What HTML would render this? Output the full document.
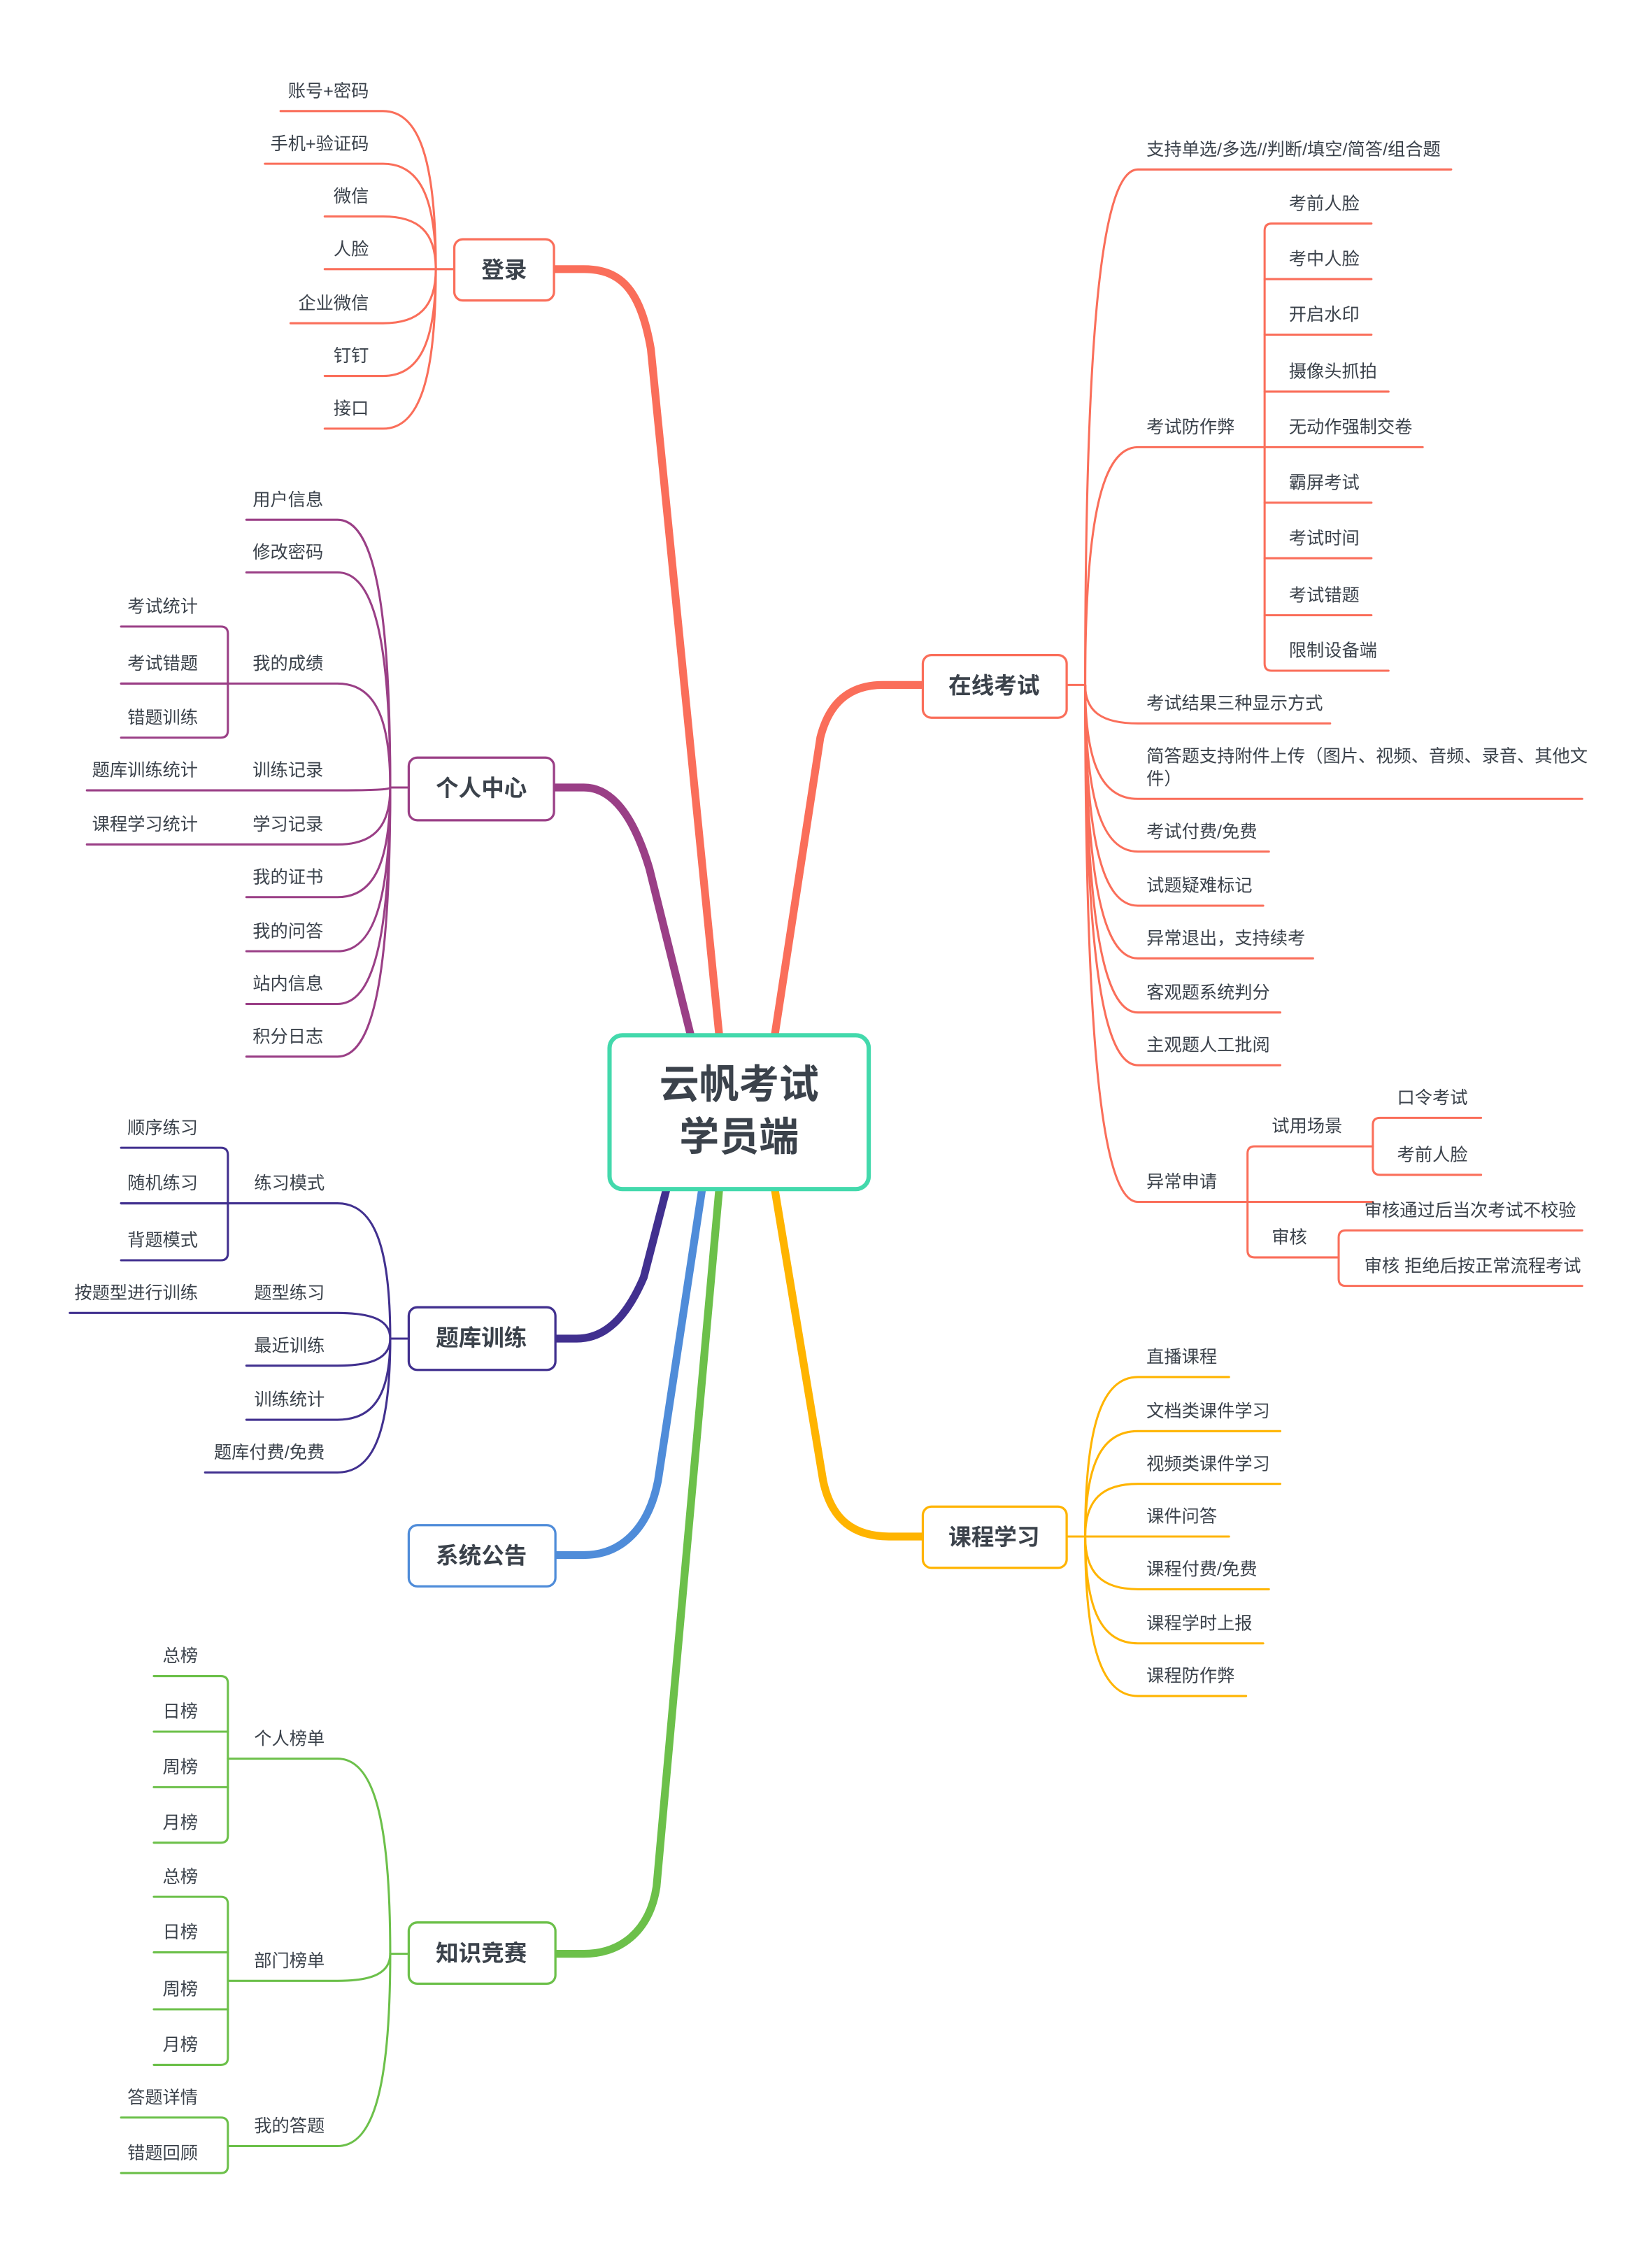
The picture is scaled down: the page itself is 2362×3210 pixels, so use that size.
<!DOCTYPE html>
<html><head><meta charset="utf-8">
<style>
html,body{margin:0;padding:0;background:#fff;}
svg{display:block;}
text{font-family:"Liberation Sans","Noto Sans CJK SC",sans-serif;fill:#3b424b;}
.l{font-size:12.4px;}
.n{font-size:16px;font-weight:bold;}
.e{text-anchor:end;}
</style></head>
<body>
<svg id="s" width="2362" height="3210" viewBox="0 0 1160 1576.5" xmlns="http://www.w3.org/2000/svg">
<g id="lines" fill="none" stroke-linecap="round"></g>
<rect x="319" y="168" width="70" height="43" rx="6" fill="#fff" stroke="#FA6E5A" stroke-width="1.6"/>
<rect x="287" y="532" width="102" height="44" rx="6" fill="#fff" stroke="#9A3F86" stroke-width="1.6"/>
<rect x="648" y="460" width="101" height="44" rx="6" fill="#fff" stroke="#FA6E5A" stroke-width="1.6"/>
<rect x="648" y="1058" width="101" height="43" rx="6" fill="#fff" stroke="#FFB400" stroke-width="1.6"/>
<rect x="287" y="918" width="103" height="44" rx="6" fill="#fff" stroke="#41308F" stroke-width="1.6"/>
<rect x="287" y="1071" width="103" height="43" rx="6" fill="#fff" stroke="#4F8CD9" stroke-width="1.6"/>
<rect x="287" y="1350" width="103" height="43" rx="6" fill="#fff" stroke="#6CC04A" stroke-width="1.6"/>
<rect x="428" y="727" width="182" height="108" rx="9" fill="#fff" stroke="#43D9AC" stroke-width="3"/>
<text x="519" y="771" text-anchor="middle" style="font-size:28px;font-weight:bold">云帆考试</text>
<text x="519" y="808" text-anchor="middle" style="font-size:28px;font-weight:bold">学员端</text>
<text class="n" x="354" y="195" text-anchor="middle">登录</text>
<text class="n" x="338" y="559" text-anchor="middle">个人中心</text>
<text class="n" x="698" y="487" text-anchor="middle">在线考试</text>
<text class="n" x="698" y="1085" text-anchor="middle">课程学习</text>
<text class="n" x="338" y="945" text-anchor="middle">题库训练</text>
<text class="n" x="338" y="1098" text-anchor="middle">系统公告</text>
<text class="n" x="338" y="1377" text-anchor="middle">知识竞赛</text>
<g>
<text class="l e" x="259" y="68">账号+密码</text>
<text class="l e" x="259" y="105">手机+验证码</text>
<text class="l e" x="259" y="142">微信</text>
<text class="l e" x="259" y="179">人脸</text>
<text class="l e" x="259" y="217">企业微信</text>
<text class="l e" x="259" y="254">钉钉</text>
<text class="l e" x="259" y="291">接口</text>
<text class="l e" x="227" y="355">用户信息</text>
<text class="l e" x="227" y="392">修改密码</text>
<text class="l e" x="227" y="470">我的成绩</text>
<text class="l e" x="227" y="545">训练记录</text>
<text class="l e" x="227" y="583">学习记录</text>
<text class="l e" x="227" y="620">我的证书</text>
<text class="l e" x="227" y="658">我的问答</text>
<text class="l e" x="227" y="695">站内信息</text>
<text class="l e" x="227" y="732">积分日志</text>
<text class="l e" x="139" y="430">考试统计</text>
<text class="l e" x="139" y="470">考试错题</text>
<text class="l e" x="139" y="508">错题训练</text>
<text class="l e" x="139" y="545">题库训练统计</text>
<text class="l e" x="139" y="583">课程学习统计</text>
<text class="l e" x="139" y="796">顺序练习</text>
<text class="l e" x="139" y="835">随机练习</text>
<text class="l e" x="139" y="875">背题模式</text>
<text class="l e" x="228" y="835">练习模式</text>
<text class="l e" x="228" y="912">题型练习</text>
<text class="l e" x="139" y="912">按题型进行训练</text>
<text class="l e" x="228" y="949">最近训练</text>
<text class="l e" x="228" y="987">训练统计</text>
<text class="l e" x="228" y="1024">题库付费/免费</text>
<text class="l e" x="139" y="1167">总榜</text>
<text class="l e" x="139" y="1206">日榜</text>
<text class="l e" x="139" y="1245">周榜</text>
<text class="l e" x="139" y="1284">月榜</text>
<text class="l e" x="228" y="1225">个人榜单</text>
<text class="l e" x="139" y="1322">总榜</text>
<text class="l e" x="139" y="1361">日榜</text>
<text class="l e" x="139" y="1401">周榜</text>
<text class="l e" x="139" y="1440">月榜</text>
<text class="l e" x="228" y="1381">部门榜单</text>
<text class="l e" x="139" y="1477">答题详情</text>
<text class="l e" x="139" y="1516">错题回顾</text>
<text class="l e" x="228" y="1497">我的答题</text>
</g>
<text class="l" x="805" y="109">支持单选/多选//判断/填空/简答/组合题</text>
<text class="l" x="805" y="304">考试防作弊</text>
<text class="l" x="905" y="147">考前人脸</text>
<text class="l" x="905" y="186">考中人脸</text>
<text class="l" x="905" y="225">开启水印</text>
<text class="l" x="905" y="265">摄像头抓拍</text>
<text class="l" x="905" y="304">无动作强制交卷</text>
<text class="l" x="905" y="343">霸屏考试</text>
<text class="l" x="905" y="382">考试时间</text>
<text class="l" x="905" y="422">考试错题</text>
<text class="l" x="905" y="461">限制设备端</text>
<text class="l" x="805" y="498">考试结果三种显示方式</text>
<text class="l" x="805" y="535">简答题支持附件上传（图片、视频、音频、录音、其他文</text>
<text class="l" x="805" y="551">件）</text>
<text class="l" x="805" y="588">考试付费/免费</text>
<text class="l" x="805" y="626">试题疑难标记</text>
<text class="l" x="805" y="663">异常退出，支持续考</text>
<text class="l" x="805" y="701">客观题系统判分</text>
<text class="l" x="805" y="738">主观题人工批阅</text>
<text class="l" x="805" y="834">异常申请</text>
<text class="l" x="893" y="795">试用场景</text>
<text class="l" x="981" y="775">口令考试</text>
<text class="l" x="981" y="815">考前人脸</text>
<text class="l" x="893" y="873">审核</text>
<text class="l" x="958" y="854">审核通过后当次考试不校验</text>
<text class="l" x="958" y="893">审核 拒绝后按正常流程考试</text>
<text class="l" x="805" y="957">直播课程</text>
<text class="l" x="805" y="995">文档类课件学习</text>
<text class="l" x="805" y="1032">视频类课件学习</text>
<text class="l" x="805" y="1069">课件问答</text>
<text class="l" x="805" y="1106">课程付费/免费</text>
<text class="l" x="805" y="1144">课程学时上报</text>
<text class="l" x="805" y="1181">课程防作弊</text>
</svg>
<script>
var g=document.getElementById('lines');var NS='http://www.w3.org/2000/svg';
function P(d,c,w){var p=document.createElementNS(NS,'path');p.setAttribute('d',d);p.setAttribute('stroke',c);p.setAttribute('stroke-width',w||1.5);g.appendChild(p);}
function L(c,hx,hy,rows){rows.forEach(function(r){var y=r[1];if(Math.abs(y-hy)<1){P('M'+r[0]+','+y+' L'+hx+','+hy,c);return;}P('M'+hx+','+hy+' C'+hx+','+(hy+(y-hy)*0.7)+' '+(hx-12)+','+y+' '+(hx-37)+','+y+' L'+r[0]+','+y,c);});}
function R(c,hx,hy,rows){rows.forEach(function(r){var y=r[1];if(Math.abs(y-hy)<1){P('M'+hx+','+hy+' L'+r[0]+','+y,c);return;}P('M'+hx+','+hy+' C'+hx+','+(hy+(y-hy)*0.7)+' '+(hx+12)+','+y+' '+(hx+37)+','+y+' L'+r[0]+','+y,c);});}
function BL(c,bx,x0,ys){var a=ys[0],b=ys[ys.length-1];P('M'+x0+','+a+' L'+(bx-5)+','+a+' Q'+bx+','+a+' '+bx+','+(a+5)+' L'+bx+','+(b-5)+' Q'+bx+','+b+' '+(bx-5)+','+b+' L'+x0+','+b,c);for(var i=1;i<ys.length-1;i++)P('M'+x0+','+ys[i]+' L'+bx+','+ys[i],c);}
function BR(c,bx,x1s,ys){var a=ys[0],b=ys[ys.length-1];P('M'+x1s[0]+','+a+' L'+(bx+5)+','+a+' Q'+bx+','+a+' '+bx+','+(a+5)+' L'+bx+','+(b-5)+' Q'+bx+','+b+' '+(bx+5)+','+b+' L'+x1s[x1s.length-1]+','+b,c);for(var i=1;i<ys.length-1;i++)P('M'+bx+','+ys[i]+' L'+x1s[i]+','+ys[i],c);}
var RD='#FA6E5A',PU='#9A3F86',IN='#41308F',BL_='#4F8CD9',GR='#6CC04A',YE='#FFB400';
P('M505,727 L457,245 C450,205 437,189 410,189 L389,189',RD,5.5);
P('M485,727 L456,610 C447,580 433,553 410,553 L389,553',PU,5.5);
P('M544,727 L576,518 C582,494 596,481 620,481 L648,481',RD,5.5);
P('M544,835 L578,1040 C584,1068 600,1079 625,1079 L648,1079',YE,5.5);
P('M468,835 L452,897 C440,925 425,940 405,940 L390,940',IN,5.5);
P('M493,835 L462,1040 C455,1075 435,1092 410,1092 L390,1092',BL_,5.5);
P('M505,835 L461,1325 C456,1357 435,1372 410,1372 L390,1372',GR,5.5);
P('M306,189 L319,189',RD);
L(RD,306,189,[[197,78],[186,115],[228,152],[228,189],[204,227],[228,264],[228,301]]);
P('M274,553 L287,553',PU);
L(PU,274,553,[[173,365],[173,402],[85,480],[61,555],[61,593],[173,630],[173,668],[173,705],[173,742]]);
BL(PU,160,85,[440,480,518]);
P('M274,940 L287,940',IN);
L(IN,274,940,[[85,845],[49,922],[173,959],[173,997],[144,1034]]);
BL(IN,160,85,[806,845,885]);
P('M274,1372 L287,1372',GR);
L(GR,274,1372,[[160,1235],[160,1391],[160,1507]]);
BL(GR,160,108,[1177,1216,1255,1294]);
BL(GR,160,108,[1332,1371,1411,1450]);
BL(GR,160,85,[1487,1526]);
P('M749,481 L762,481',RD);
R(RD,762,481,[[1019,119],[888,314],[934,508],[1111,561],[891,598],[887,636],[922,673],[899,711],[899,748],[876,844]]);
BR(RD,888,[963,963,963,975,999,963,963,963,975],[157,196,235,275,314,353,392,432,471]);
BR(RD,876,[964,964,940],[805,844,883]);
BR(RD,964,[1040,1040],[785,825]);
BR(RD,940,[1111,1111],[864,903]);
P('M749,1079 L762,1079',YE);
R(YE,762,1079,[[863,967],[899,1005],[899,1042],[863,1079],[891,1116],[887,1154],[875,1191]]);
</script>
</body></html>
